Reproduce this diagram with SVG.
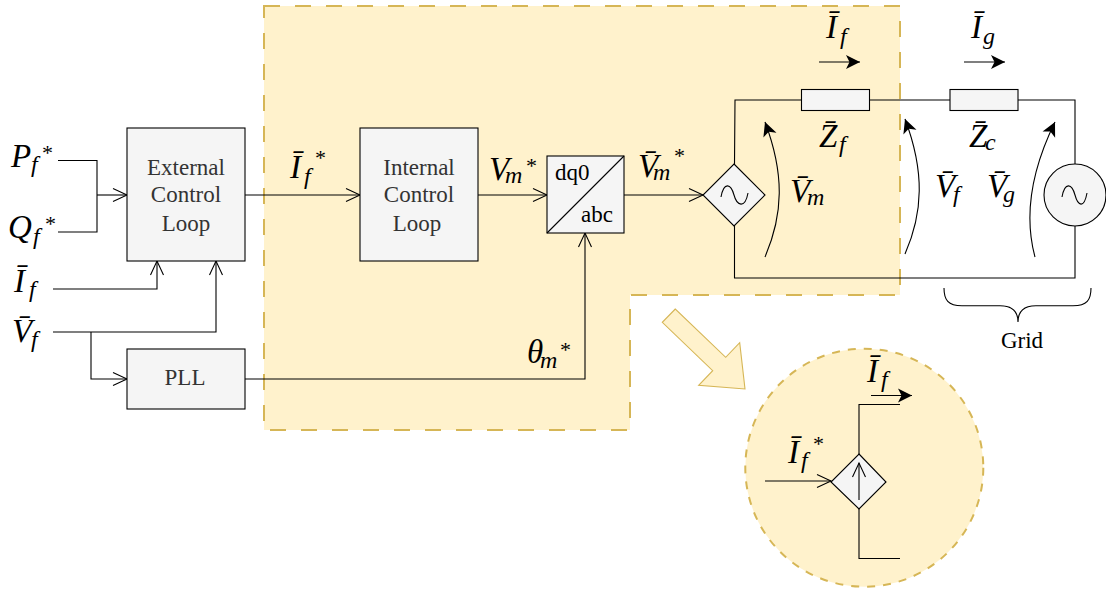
<svg xmlns="http://www.w3.org/2000/svg" width="1106" height="590" viewBox="0 0 1106 590">
<style>
.b{fill:#f5f5f5;stroke:#000;stroke-width:1.1}
.w{fill:none;stroke:#000;stroke-width:1.1}
.o{marker-end:url(#open)}
.c{marker-end:url(#fill)}
.l{font-family:"Liberation Serif",serif;font-size:23px;fill:#333;text-anchor:middle}
.t{font-family:"Liberation Serif",serif;font-size:23px;fill:#000}
.m{font-family:"Liberation Serif",serif;font-style:italic;font-size:33px;fill:#000}
.s{font-size:24px}
.a{font-style:normal;font-size:22px}
.y{fill:#fff2cc;stroke:#d6b656;stroke-width:2}
</style>
<defs>
<marker id="open" markerUnits="userSpaceOnUse" markerWidth="16" markerHeight="16" refX="14" refY="7" orient="auto" overflow="visible"><path d="M0,0.5 L14,7 L0,13.5" fill="none" stroke="#000" stroke-width="1.1"/></marker>
<marker id="fill" markerUnits="userSpaceOnUse" markerWidth="16" markerHeight="16" refX="14" refY="7" orient="auto" overflow="visible"><path d="M0,0 L14,7 L0,14 L3.5,7Z" fill="#000"/></marker>
</defs>
<g id="region"><path class="y" d="M264,6H900V295H630V430H264Z" stroke-dasharray="16 15"/></g>
<g id="zoom-arrow"><path d="M675.3,309L662.3,322.3L712.7,370.7L698.7,385.3L745,389L739.7,342.7L725.7,357.3Z" fill="#fff2cc" stroke="#d6b656" stroke-width="1.1"/></g>
<g id="zoom-circle"><circle class="y" cx="864.3" cy="467.7" r="119" stroke-dasharray="8 8"/></g>
<g id="connectors">
<path class="w" d="M58,160.5H97V232H58"/>
<path class="w o" d="M97,195H127"/>
<path class="w o" d="M53,289H157V261"/>
<path class="w o" d="M53,332H216V261"/>
<path class="w o" d="M91,332V379H127"/>
<path class="w o" d="M245,195H360"/>
<path class="w o" d="M478,195H547"/>
<path class="w o" d="M624,195H703"/>
<path class="w o" d="M245,379H585V233"/>
<path class="w" d="M734.5,164L735,100H801M870,100H950M1018,100H1075V164M1075,226V278H734.5V225"/>
<path class="w c" d="M819,62H860"/>
<path class="w c" d="M964,62H1005"/>
<path class="w c" d="M765,257C783,215 785,175 765,122"/>
<path class="w c" d="M905,254C923,213 925,172 905,119"/>
<path class="w c" d="M1035,257C1025,220 1029,175 1055,122"/>
<path class="w" d="M944,288C944,300 948,305.7 962,305.7H1000C1011,305.7 1018,310 1018,322C1018,310 1025,305.7 1036,305.7H1073C1087,305.7 1091,300 1091,288"/>
<path class="w" d="M859,454V404.5H900M859,509V558.5H900"/>
<path class="w o" d="M765,481H831"/>
<path class="w c" d="M871,395.5H912"/>
</g>
<g id="external-control-loop"><rect class="b" x="127" y="128" width="118" height="133"/><text class="l" x="186" y="175">External</text><text class="l" x="186" y="202">Control</text><text class="l" x="186" y="231">Loop</text></g>
<g id="pll"><rect class="b" x="127" y="349" width="118" height="60"/><text class="l" x="185" y="385">PLL</text></g>
<g id="internal-control-loop"><rect class="b" x="360" y="128" width="118" height="133"/><text class="l" x="419" y="175">Internal</text><text class="l" x="419" y="202">Control</text><text class="l" x="417" y="231">Loop</text></g>
<g id="dq0-abc"><rect class="b" x="547" y="156" width="77" height="77"/><path class="w" d="M547,233L624,156"/><text class="t" x="555" y="180">dq0</text><text class="t" x="581" y="222">abc</text></g>
<g id="voltage-source"><path class="b" d="M734,164L765,195L734,226L703,195Z"/><path class="w" d="M721,197C724,181 731,184 734,195S745,209 748,193"/></g>
<g id="impedance-f"><rect class="b" x="801.5" y="89.5" width="68" height="21"/></g>
<g id="impedance-c"><rect class="b" x="950" y="89.5" width="68" height="21"/></g>
<g id="grid-source"><circle class="b" cx="1075" cy="195" r="31"/><path class="w" d="M1062,197C1065,181 1072,184 1075,195S1084,209 1087,193"/></g>
<g id="current-source"><path class="b" d="M859,454L886,482L859,509L831,482Z"/><path class="w o" d="M859,500V463"/></g>
<g id="labels">
<text class="m" x="11" y="167">P<tspan class="s" x="31" y="172">f</tspan><tspan class="a" x="42" y="160">*</tspan></text>
<text class="m" x="8" y="238">Q<tspan class="s" x="33" y="244">f</tspan><tspan class="a" x="45" y="231">*</tspan></text>
<text class="m" x="14" y="292">Ī<tspan class="s" x="29" y="297">f</tspan></text>
<text class="m" x="12" y="342">V̄<tspan class="s" x="31" y="347">f</tspan></text>
<text class="m" x="290" y="178">Ī<tspan class="s" x="304" y="184">f</tspan><tspan class="a" x="315" y="165">*</tspan></text>
<text class="m" x="489" y="180">V<tspan class="s" x="505" y="183">m</tspan><tspan class="a" x="526" y="173">*</tspan></text>
<text class="m" x="527" y="363">θ<tspan class="s" x="540" y="368">m</tspan><tspan class="a" x="560" y="357">*</tspan></text>
<text class="m" x="638" y="177">V̄<tspan class="s" x="653" y="180">m</tspan><tspan class="a" x="674" y="163">*</tspan></text>
<text class="m" x="826" y="38">Ī<tspan class="s" x="840" y="44">f</tspan></text>
<text class="m" x="971" y="38">Ī<tspan class="s" x="983" y="44">g</tspan></text>
<text class="m" x="819" y="147">Z̄<tspan class="s" x="839" y="152">f</tspan></text>
<text class="m" x="969" y="147">Z̄<tspan class="s" x="985" y="150">c</tspan></text>
<text class="m" x="790" y="202">V̄<tspan class="s" x="807" y="205">m</tspan></text>
<text class="m" x="935" y="197">V̄<tspan class="s" x="953" y="202">f</tspan></text>
<text class="m" x="987" y="197">V̄<tspan class="s" x="1003" y="202">g</tspan></text>
<text class="m" x="867" y="382">Ī<tspan class="s" x="881" y="387">f</tspan></text>
<text class="m" x="788" y="463">Ī<tspan class="s" x="801" y="468">f</tspan><tspan class="a" x="813" y="451">*</tspan></text>
<text class="t" x="1022" y="348" text-anchor="middle">Grid</text>
</g>
</svg>
